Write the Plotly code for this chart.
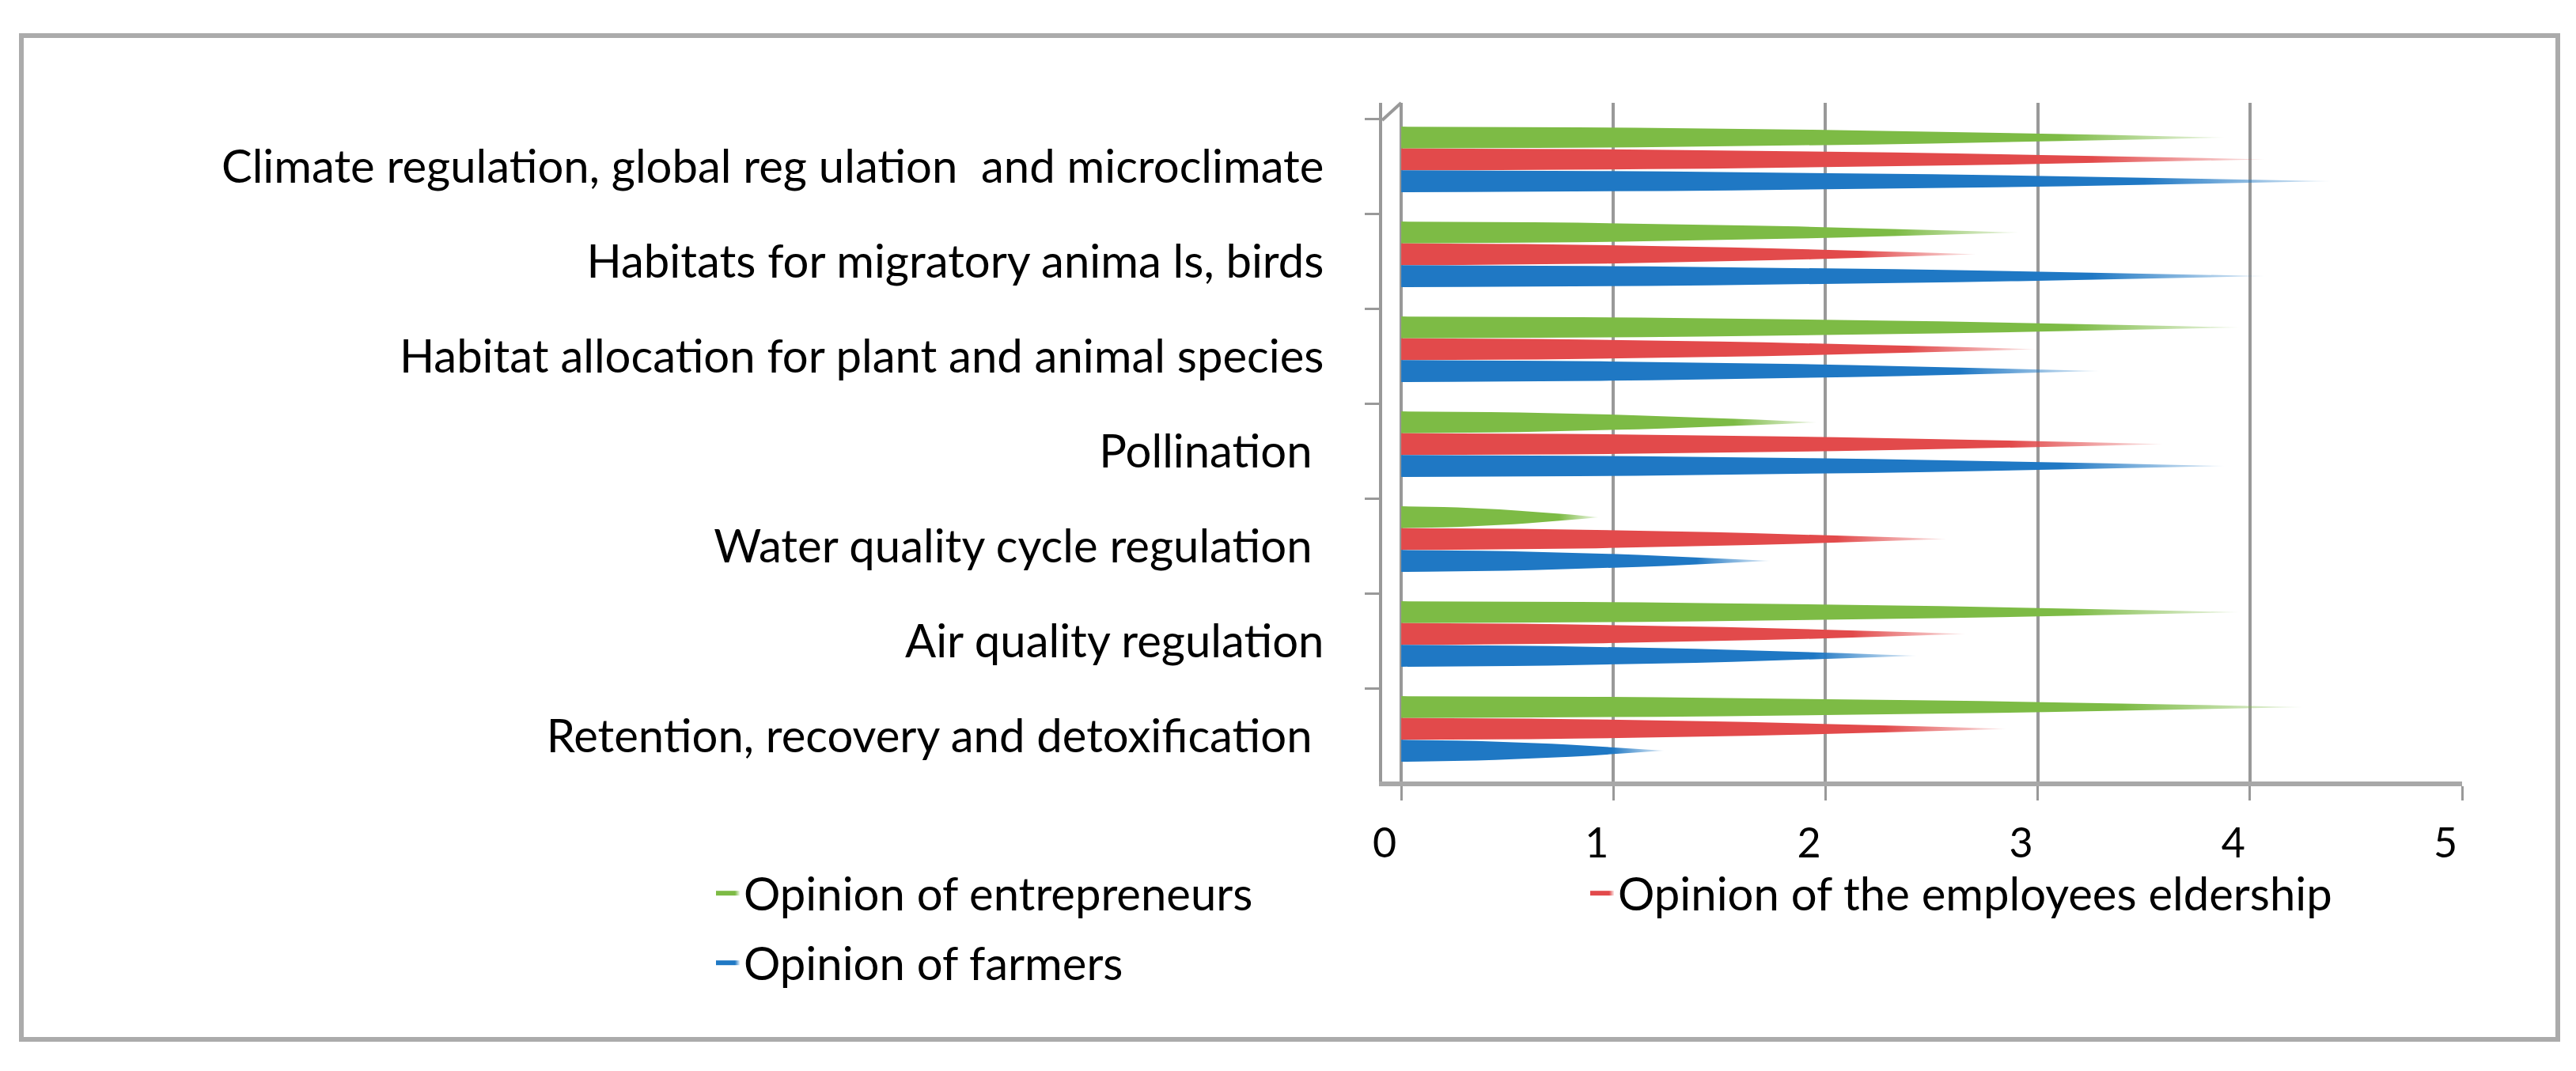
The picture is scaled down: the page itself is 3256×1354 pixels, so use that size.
import plotly.graph_objects as go

# ---------------- data ----------------
categories = [
    "Retention, recovery and detoxification ",
    "Air quality regulation",
    "Water quality cycle regulation ",
    "Pollination ",
    "Habitat allocation for plant and animal species",
    "Habitats for migratory anima ls, birds",
    "Climate regulation, global reg ulation  and microclimate",
]
entrepreneurs = [4.25, 3.95, 0.93, 1.96, 3.95, 2.91, 3.88]
employees = [2.85, 2.66, 2.57, 3.59, 2.99, 2.71, 4.07]
farmers = [1.24, 2.43, 1.74, 3.88, 3.29, 4.07, 4.38]
x_ticks = [0, 1, 2, 3, 4, 5]
series_names = ["Opinion of entrepreneurs", "Opinion of the employees eldership", "Opinion of farmers"]

# ---------------- style ----------------
W, H = 3256, 1354
L, R, T, B = 1747, 3112, 130, 988
FONT = "Lato"
colors = ["#7DBB45", "#E24A4B", "#1F78C4"]
fades = ["rgba(125,187,69,0.12)", "rgba(226,74,75,0.12)", "rgba(31,120,196,0.12)"]
slots = [1, 0, -1]
legends = ["legend", "legend2", "legend3"]
CONE_H = 0.23          # cone base height in category units
STEPS = 14             # outline resolution of a cone
BULGE = 1.8            # how full the cone silhouette is (perspective look)


def cone_outline(value, centre):
    """Outline of a horizontal cone of length `value` centred on `centre`."""
    fr = [k / STEPS for k in range(STEPS + 1)]
    xs_top = [value * f for f in fr]
    half = [CONE_H / 2 * (1 - f ** BULGE) for f in fr]
    xs = xs_top + xs_top[::-1] + [0]
    ys = [centre + h for h in half] + [centre - h for h in half[::-1]] + [centre + CONE_H / 2]
    return xs, ys


fig = go.Figure()
for name, vals, col, fade, slot, lg in zip(series_names, [entrepreneurs, employees, farmers],
                                           colors, fades, slots, legends):
    for i, v in enumerate(vals):
        xs, ys = cone_outline(v, i + slot * CONE_H)
        fig.add_trace(go.Scatter(
            x=xs, y=ys,
            mode="lines",
            line=dict(width=0, color=col),
            fill="toself",
            fillcolor=col,
            fillgradient=dict(type="horizontal", start=0, stop=v,
                              colorscale=[[0, col], [0.8, col], [1, fade]]),
            name=name,
            legendgroup=name,
            showlegend=(i == 0),
            legend=lg,
            hoverinfo="skip",
        ))


def px_x(p):
    return (p - L) / (R - L)


def px_y(p):
    return (B - p) / (B - T)


def legend_at(x_px, top_px):
    return dict(
        xref="container", yref="container", x=x_px / W, y=1 - top_px / H,
        xanchor="left", yanchor="top", orientation="h",
        font=dict(family=FONT, size=58, color="black"),
        bgcolor="rgba(0,0,0,0)", itemwidth=30,
    )


fig.update_layout(
    width=W, height=H,
    margin=dict(l=L, r=W - R, t=T, b=H - B, pad=0, autoexpand=False),
    paper_bgcolor="white", plot_bgcolor="white",
    font=dict(family=FONT, size=58, color="black"),
    xaxis=dict(
        range=[-0.09, 5], tickvals=x_ticks, ticktext=[str(t) for t in x_ticks],
        showgrid=True, gridcolor="#999999", gridwidth=4, zeroline=False,
        showline=True, linecolor="#A8A8A8", linewidth=6,
        ticks="outside", ticklen=18, tickwidth=3, tickcolor="#999999",
        ticklabelstandoff=10, ticklabelshift=-21,
        tickfont=dict(family=FONT, size=52, color="black"),
        fixedrange=True, automargin=False,
    ),
    yaxis=dict(
        range=[-0.554, 6.596],
        tickvals=[i - 0.08 for i in range(len(categories))], ticktext=categories,
        ticks="", showgrid=False, zeroline=False,
        showline=True, linecolor="#999999", linewidth=4,
        ticklabelstandoff=58, tickfont=dict(family=FONT, size=58, color="black"),
        minor=dict(tickvals=[i - 0.575 for i in range(len(categories) + 1)],
                   ticks="outside", ticklen=18, tickwidth=3, tickcolor="#999999", showgrid=False),
        fixedrange=True, automargin=False,
    ),
    showlegend=True,
    legend=legend_at(900, 1084),
    legend2=legend_at(2005, 1084),
    legend3=legend_at(900, 1172),
    shapes=[
        dict(type="rect", xref="paper", yref="paper", layer="below",
             x0=px_x(27), x1=px_x(3233), y0=px_y(1314), y1=px_y(45),
             line=dict(color="#ABABAB", width=6), fillcolor="rgba(0,0,0,0)"),
        dict(type="line", xref="paper", yref="paper", layer="below",
             x0=px_x(1747), x1=px_x(1771), y0=px_y(152), y1=px_y(130),
             line=dict(color="#999999", width=4)),
    ],
)

fig.write_html("out.html", config={"displayModeBar": False},
               post_script="document.body.style.margin='0';document.body.style.overflow='hidden';")
